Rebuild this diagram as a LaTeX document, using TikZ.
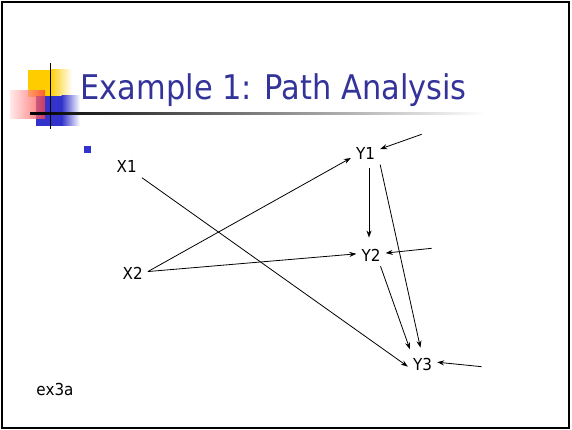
\documentclass[tikz,border=0pt]{standalone}
\usepackage{fontspec}
\setmainfont{DejaVu Sans}
\usepackage{graphicx}
\usetikzlibrary{arrows.meta,calc}
\definecolor{titleblue}{RGB}{51,51,153}
\definecolor{bulletblue}{RGB}{51,51,204}
\definecolor{decoyellow}{RGB}{255,204,0}
\definecolor{decored}{RGB}{255,60,60}
\newcommand{\xsq}[1]{\scalebox{0.92}[1]{#1}}
\tikzset{
  lbl/.style={font=\fontsize{16.5}{19}\selectfont, inner sep=5pt, anchor=base},
  conn/.style={line width=0.8pt, -{Stealth[length=7pt,width=5pt]}},
}
\begin{document}
\begin{tikzpicture}[x=1pt,y=-1pt]
\useasboundingbox (0,0) rectangle (572,430);
% slide frame
\draw[line width=2pt] (2,2.5) rectangle (568.5,427.8);
% title decoration
\fill[decoyellow] (28,70) rectangle (50.5,96.7);
\shade[left color=decoyellow, right color=white] (50,70) rectangle (72,96.7);
\fill[bulletblue] (36,96) rectangle (62,126);
\shade[left color=bulletblue, right color=white] (61.5,96) rectangle (80,126);
\shade[left color=decored!15, right color=decored, opacity=0.75] (10,91) rectangle (45,118.3);
\shade[left color=black, right color=white] (30,112.6) rectangle (485,114.1);
\draw[line width=1.5pt] (50.7,63.3) -- (50.7,129);
% title
\node[anchor=base west, inner sep=0pt, text=titleblue, font=\fontsize{34}{40}\selectfont] (title) at (80.5,99.3) {\scalebox{0.895}[1]{Example 1: Path Analysis}};
% bullet
\fill[bulletblue] (84,146) rectangle (91,153);
% nodes
\node[lbl] (X1) at (126.7,172.5) {\xsq{X1}};
\node[lbl] (X2) at (132.7,279) {\xsq{X2}};
\node[lbl] (Y1) at (365.5,159.5) {\xsq{Y1}};
\node[lbl] (Y2) at (371,261) {\xsq{Y2}};
\node[lbl] (Y3) at (422.5,370) {\xsq{Y3}};
\node[lbl] (ex) at (55,395) {\xsq{ex3a}};
% free ends of error arrows
\coordinate (e1) at (421.7,134.3);
\coordinate (e2) at (431.7,248.3);
\coordinate (e3) at (481.7,366.7);
% connectors
\draw[conn] (X1.south east) -- (Y3.190);
\draw[conn] (X2.5) -- (Y1.197);
\draw[conn] (X2.5) -- (Y2.176);
\draw[conn, shorten <=3pt, shorten >=6pt] ([xshift=-2pt]Y2.north |- Y1.south) -- ([xshift=-2pt]Y2.north);
\draw[conn, shorten >=5pt] (Y1.south east) -- (Y3.95);
\draw[conn, shorten >=3.5pt] (Y2.-50) -- (Y3.135);
\draw[conn] (e1) -- (Y1.17);
\draw[conn] (e2) -- (Y2.7);
\draw[conn] (e3) -- (Y3.7);
\end{tikzpicture}
\end{document}
